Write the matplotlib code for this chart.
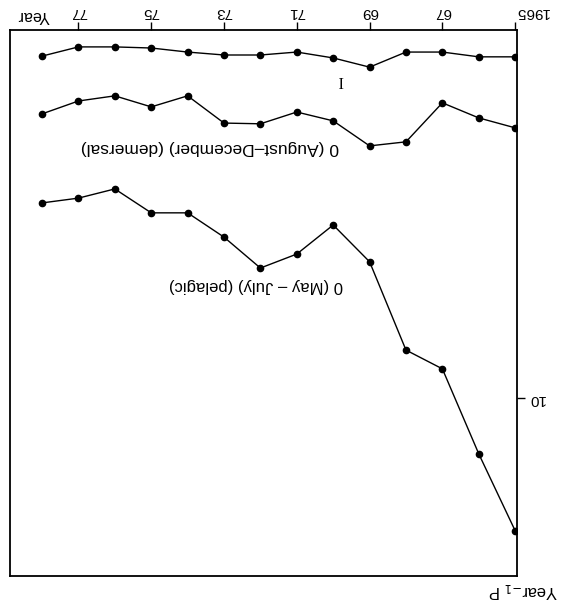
import matplotlib
matplotlib.use("Agg")
import matplotlib.pyplot as plt

# The figure in the reference is printed upside down (rotated 180 degrees),
# so both axes are inverted and all text is rotated by 180.

years = list(range(1965, 1979))

# I
i_vals = [0.73, 0.73, 0.60, 0.60, 1.01, 0.76, 0.60, 0.68, 0.68, 0.60, 0.49, 0.46, 0.46, 0.71]
# P0 (August-December) (demersal)
demersal = [2.66, 2.39, 1.98, 3.04, 3.15, 2.47, 2.23, 2.55, 2.53, 1.79, 2.09, 1.79, 1.93, 2.28]
# P0 (May-July) (pelagic)
pelagic = [13.61, 11.52, 9.21, 8.70, 6.30, 5.30, 6.09, 6.47, 5.63, 4.97, 4.97, 4.32, 4.57, 4.70]

x_ticks = [1965, 1967, 1969, 1971, 1973, 1975, 1977]
x_tick_labels = ["1965", "67", "69", "71", "73", "75", "77"]
y_ticks = [10]
y_tick_labels = ["10"]

plt.rcParams['font.family'] = ['Liberation Sans', 'DejaVu Sans']

fig = plt.figure(figsize=(5.66, 6.02), dpi=100)
ax = fig.add_axes([0.0177, 0.0432, 0.8957, 0.907])

style = dict(color='black', lw=1.0, marker='o', ms=4.5, mfc='black', mec='black')
ax.plot(years, i_vals, **style)
ax.plot(years, demersal, **style)
ax.plot(years, pelagic, **style)

ax.set_xlim(1978.88, 1964.95)
ax.set_ylim(14.84, 0)

ax.xaxis.tick_top()
ax.yaxis.tick_right()
ax.set_xticks(x_ticks)
ax.set_xticklabels(x_tick_labels, rotation=180, fontsize=11)
ax.set_yticks(y_ticks)
ax.set_yticklabels(y_tick_labels, rotation=180, fontsize=11)
ax.tick_params(direction='out', length=6, width=1, pad=2)
ax.xaxis.get_ticklabels()[0].set_horizontalalignment('left')

for s in ax.spines.values():
    s.set_linewidth(1.3)

# series labels
ax.text(1969.8, 1.35, "I", rotation=180, ha='center', va='center',
        fontsize=12, family='Liberation Serif')
ax.text(1973.38, 3.2, "0 (August\u2013December) (demersal)", rotation=180,
        ha='center', va='center', fontsize=12.5)
ax.text(1972.12, 6.95, "0 (May \u2013 July) (pelagic)", rotation=180,
        ha='center', va='center', fontsize=12)

# axis titles
ax.text(0.047, 1.027, "Year", rotation=180, ha='center', va='center',
        fontsize=11.5, transform=ax.transAxes)
ax.text(1.012, -0.026, "Year$_{-1}$ P", rotation=180, ha='center', va='center',
        fontsize=12, transform=ax.transAxes)

fig.savefig("out.png", dpi=100)
